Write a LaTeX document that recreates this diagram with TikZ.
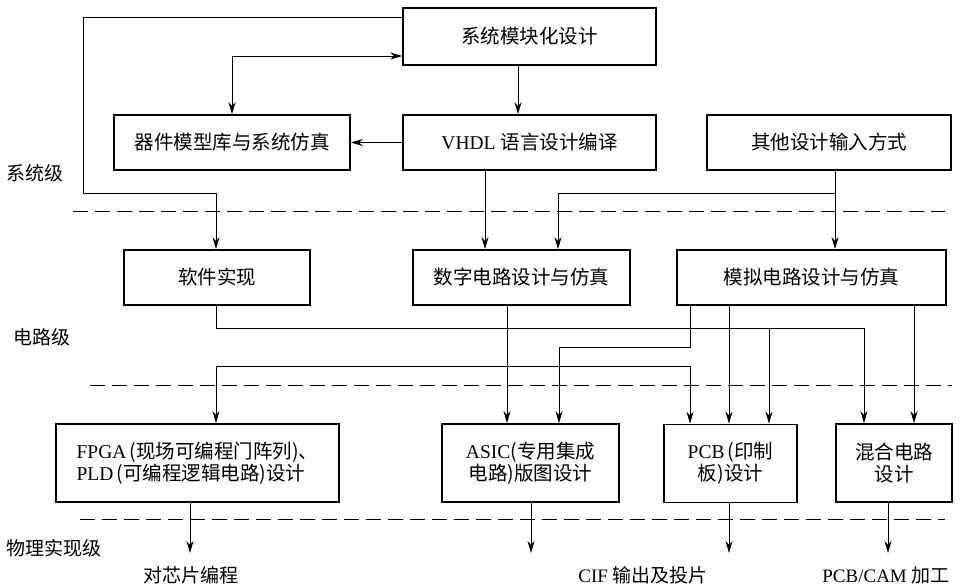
\documentclass[tikz,border=0pt]{standalone}
\usepackage{fontspec}
\setmainfont{Liberation Serif}
\newfontfamily\cjk{Noto Sans CJK SC}
\usetikzlibrary{arrows.meta}
\newcommand{\zh}[1]{{\cjk #1}}
\begin{document}
\begin{tikzpicture}[x=1pt,y=-1pt,
  box/.style={draw,line width=1.7pt,rectangle,inner sep=0pt,align=center,
    font=\fontsize{19.5}{22}\selectfont},
  arr/.style={-{Stealth[length=12pt,width=7pt]},line width=0.9pt},
  arrtwo/.style={{Stealth[length=12pt,width=7pt]}-{Stealth[length=12pt,width=7pt]},line width=0.9pt},
  lvl/.style={font=\fontsize{19}{22}\selectfont,inner sep=0pt},
  sep/.style={dash pattern=on 15pt off 7pt,line width=1pt}]
\useasboundingbox (0,0) rectangle (960,586);
% boxes
\node[box,minimum width=253pt,minimum height=57pt] (sys) at (529.5,36.5) {\zh{系统模块化设计}};
\node[box,minimum width=236pt,minimum height=55pt] (dev) at (232,142.5) {\zh{器件模型库与系统仿真}};
\node[box,minimum width=253pt,minimum height=55pt] (vhdl) at (529.5,142.5) {VHDL \zh{语言设计编译}};
\node[box,minimum width=244pt,minimum height=55pt] (other) at (829,142.5) {\zh{其他设计输入方式}};
\node[box,minimum width=186pt,minimum height=55pt] (soft) at (217,277.5) {\zh{软件实现}};
\node[box,minimum width=217pt,minimum height=55pt] (dig) at (521.5,277.5) {\zh{数字电路设计与仿真}};
\node[box,minimum width=269pt,minimum height=55pt] (ana) at (811.5,277.5) {\zh{模拟电路设计与仿真}};
\node[box,minimum width=283pt,minimum height=78pt,align=left] (fpga) at (197.5,463) {FPGA\,\zh{(现场可编程门阵列)、}\\PLD\,\zh{(可编程逻辑电路)设计}};
\node[box,minimum width=177pt,minimum height=78pt] (asic) at (530.5,463) {ASIC\zh{(专用集成}\\\zh{电路)版图设计}};
\node[box,minimum width=133pt,minimum height=78pt] (pcb) at (730.5,463.5) {PCB\,\zh{(印制}\\\zh{板)设计}};
\node[box,minimum width=116pt,minimum height=78pt] (mix) at (894,463) {\zh{混合电路}\\\zh{设计}};
% level labels
\node[lvl] (l1) at (35,173) {\zh{系统级}};
\node[lvl] (l2) at (42,337) {\zh{电路级}};
\node[lvl] (l3) at (54,548) {\zh{物理实现级}};
% output labels
\node[lvl] (o1) at (191,575) {\zh{对芯片编程}};
\node[lvl] (o2) at (643,575) {CIF \zh{输出及投片}};
\node[lvl] (o3) at (886,575) {PCB/CAM \zh{加工}};
% separators
\coordinate (s1a) at (73,211); \coordinate (s1b) at (945,211);
\coordinate (s2a) at (90,385); \coordinate (s2b) at (952,385);
\coordinate (s3a) at (80,519); \coordinate (s3b) at (945,519);
\draw[sep] (s1a) -- (s1b);
\draw[sep] (s2a) -- (s2b);
\draw[sep] (s3a) -- (s3b);
% bend coordinates
\coordinate (a1) at (83,17);
\coordinate (a2) at (216,193);
\coordinate (b1) at (232,56);
\coordinate (c1) at (518,0);
\coordinate (d1) at (485,0);
\coordinate (e1) at (835,193);
\coordinate (e2) at (558,193);
\coordinate (f1) at (216,328);
\coordinate (f2) at (864,328);
\coordinate (f3) at (769,328);
\coordinate (g1) at (690,347);
\coordinate (g2) at (559,347);
\coordinate (h1) at (729,0);
\coordinate (i1) at (914,0);
\coordinate (j1) at (507,366);
\coordinate (j2) at (216,366);
\coordinate (j3) at (690,366);
\coordinate (p1) at (190,553);
\coordinate (p2) at (531,553);
\coordinate (p3) at (729,553);
\coordinate (p4) at (888,553);
% connectors
\draw[arr] (sys.west |- a1) -- (a1) |- (a2) -- (a2 |- soft.north);
\draw[arrtwo] (sys.west |- b1) -| (dev.north);
\draw[arr] (sys.south -| c1) -- (vhdl.north -| c1);
\draw[arr] (vhdl.west) -- (dev.east);
\draw[arr] (vhdl.south -| d1) -- (dig.north -| d1);
\draw[arr] (other.south -| e1) -- (ana.north -| e1);
\draw[arr] (e1) -- (e2) -- (e2 |- dig.north);
\draw[arr] (soft.south -| f1) -- (f1) -- (f2) -- (f2 |- mix.north);
\draw[arr] (f3) -- (f3 |- pcb.north);
\draw[arr] (ana.south -| g1) -- (g1) -- (g2) -- (g2 |- asic.north);
\draw[arr] (ana.south -| h1) -- (pcb.north -| h1);
\draw[arr] (ana.south -| i1) -- (mix.north -| i1);
\draw[arr] (dig.south -| j1) -- (asic.north -| j1);
\draw[arr] (j1) -- (j2) -- (j2 |- fpga.north);
\draw[arr] (j1) -- (j3) -- (j3 |- pcb.north);
\draw[arr] (fpga.south -| p1) -- (p1);
\draw[arr] (asic.south -| p2) -- (p2);
\draw[arr] (pcb.south -| p3) -- (p3);
\draw[arr] (mix.south -| p4) -- (p4);
\end{tikzpicture}
\end{document}
